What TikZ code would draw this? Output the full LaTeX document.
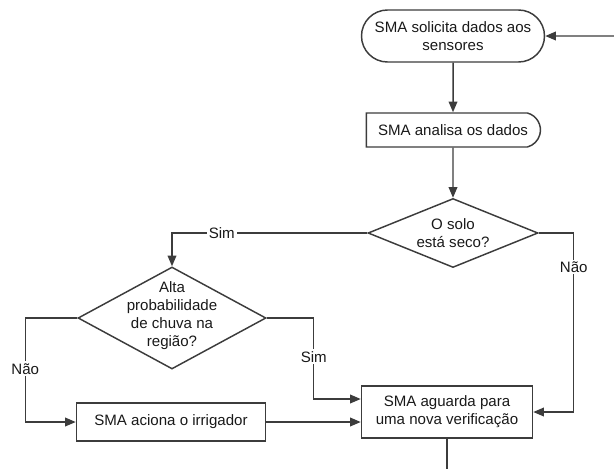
\documentclass[tikz,border=0pt]{standalone}
\usepackage{fontspec}
\setmainfont{Liberation Sans}
\usetikzlibrary{shapes.geometric,shapes.misc,arrows.meta}
\definecolor{linha}{RGB}{60,60,60}
\definecolor{texto}{RGB}{25,25,25}

\begin{document}
\begin{tikzpicture}[
    x=0.75pt, y=-0.75pt,
    line width=1.1pt,
    >={Triangle[length=8pt,width=6.5pt]},
    every node/.style = {font=\fontsize{11.3}{13.5}\selectfont, text=texto},
    base/.style = {
      draw=linha,
      align=center,
      inner sep=0pt
    },
    terminal/.style = {base, rounded rectangle, minimum width=137.25pt, minimum height=39pt},
    atraso/.style = {base, rounded rectangle, rounded rectangle left arc=none,
      rounded rectangle arc length=150, minimum width=130.5pt, minimum height=25.5pt},
    processo/.style = {base, rectangle},
    decisao/.style = {base, diamond},
    rotulo/.style = {fill=white, inner sep=1.5pt},
    seta/.style = {draw=linha, ->}
  ]
  \useasboundingbox (0,0) rectangle (614,469);

  % blocos
  \node[terminal] (solicita) at (453,36) {SMA solicita dados aos\\sensores};
  \node[atraso] (analisa) at (453,130) {SMA analisa os dados};
  \node[decisao, minimum width=127.5pt, minimum height=51.75pt,
    label={[align=center]center:{O solo\\está seco?}}] (solo) at (453,233) {};
  \node[decisao, minimum width=141pt, minimum height=76.5pt,
    label={[align=center, yshift=2pt]center:{Alta\\probabilidade\\de chuva na\\região?}}] (chuva) at (172,318) {};
  \node[processo, minimum width=141.75pt, minimum height=28.5pt] (irriga) at (171,422) {SMA aciona o irrigador};
  \node[processo, minimum width=128.25pt, minimum height=39pt] (aguarda) at (447,412) {SMA aguarda para\\uma nova verificação};

  \coordinate (entrada) at (614,36);
  \coordinate (saida) at (447,469);

  % ligacoes
  \draw[seta] (entrada) -- (solicita);
  \draw[seta] (solicita) -- (analisa);
  \draw[seta] (analisa) -- (solo);
  \draw[seta] (solo.west) -- node[rotulo, pos=.745] {Sim} (solo.west -| chuva.north) -- (chuva.north);
  \draw[seta] (solo.east) -- ++(35,0) |- node[rotulo, pos=.095] {Não} (aguarda.east);
  \draw[seta] (chuva.west) -- ++(-52,0) |- node[rotulo, pos=.245] {Não} (irriga.west);
  \draw[seta] (chuva.east) -- ++(47,0) |- node[rotulo, pos=.24] {Sim} ([yshift=9.75pt]aguarda.west);
  \draw[seta] (irriga.east) -- (irriga.east -| aguarda.west);
  \draw[draw=linha] (aguarda) -- (saida);
\end{tikzpicture}
\end{document}
